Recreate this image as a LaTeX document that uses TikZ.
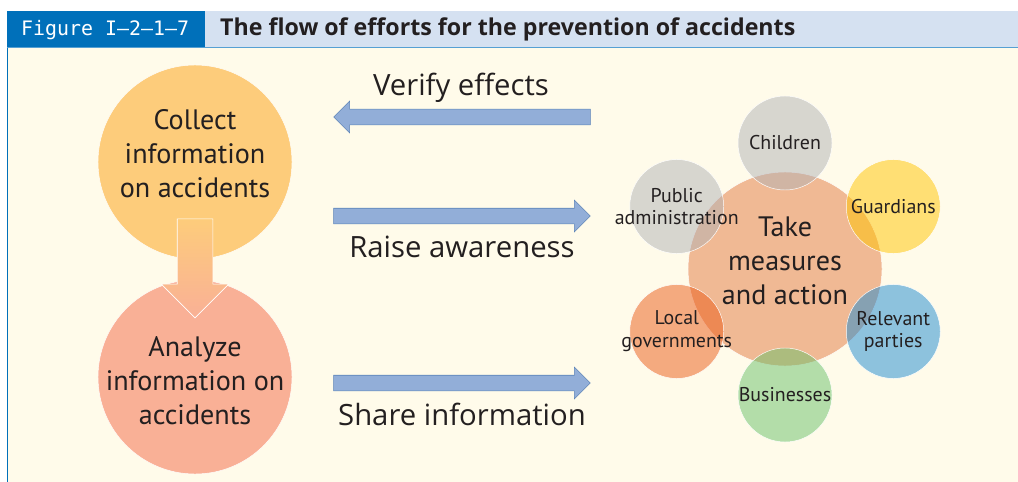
\documentclass[tikz,border=0pt]{standalone}
\usepackage{fontspec}
\setmainfont{PT Sans}
\newfontfamily\labelfont{Open Sans}
\newfontfamily\figfont{DejaVu Sans Mono}
\usepackage{tikz}
\usetikzlibrary{shapes.arrows,calc,positioning}

\definecolor{barblue}{HTML}{0070BA}
\definecolor{barlight}{HTML}{D5E1F1}
\definecolor{barline}{HTML}{56A0D3}
\definecolor{cream}{HTML}{FFFBEA}
\definecolor{collectc}{HTML}{FDCC7B}
\definecolor{analyzec}{HTML}{F9B096}
\definecolor{takec}{HTML}{F0B994}
\definecolor{arrowfill}{HTML}{92AED8}
\definecolor{arrowline}{HTML}{5C84B8}
\definecolor{txt}{HTML}{231F20}
\definecolor{graysat}{HTML}{B1B2B5}
\definecolor{yellowsat}{HTML}{FFC400}
\definecolor{bluesat}{HTML}{1D8AD1}
\definecolor{greensat}{HTML}{69C069}
\definecolor{orangesat}{HTML}{EB5A15}

\tikzset{
  bigcircle/.style={circle, draw=white, line width=0.4pt, minimum size=5.82cm, inner sep=0pt},
  bigtext/.style={text=txt, align=center, inner sep=0pt, font=\fontsize{24}{29}\selectfont},
  satellite/.style={circle, draw=white, line width=0.4pt, fill=#1, fill opacity=0.5,
    minimum size=2.82cm, inner sep=0pt},
  sattext/.style={text=txt, align=center, inner sep=0pt, font=\fontsize{17}{19.5}\selectfont},
  blockarrow/.style={single arrow, draw=arrowline, fill=arrowfill, line width=0.5pt,
    inner sep=0.225cm, single arrow head extend=0.24cm, minimum height=7.7cm},
  flowlabel/.style={text=txt, inner sep=1pt, font=\labelfont\fontsize{25}{30}\selectfont},
}

\begin{document}
\begin{tikzpicture}[x=0.03cm,y=-0.03cm]
  \useasboundingbox (0,0) rectangle (1018,482);
  % frame: white page, cream panel, title bar
  \fill[white] (0,0) rectangle (1018,482);
  \fill[cream] (7,48) rectangle (1018,482);
  \draw[barblue, line width=0.6pt] (7.3,48) -- (7.3,482);
  \fill[barlight] (205,11) rectangle (1018,47);
  \fill[barblue] (7,11) rectangle (205,47);
  \draw[barline, line width=1.5pt] (7,47.5) -- (1018,47.5);
  \node[text=white, anchor=west, font=\figfont\fontsize{17}{20}\selectfont] (fignum) at (17,30) {Figure I–2–1–7};
  \node[text=txt, anchor=west, font=\labelfont\bfseries\fontsize{19.8}{22}\selectfont] (title) at (216,29.5) {The flow of efforts for the prevention of accidents};

  % left column
  \node[bigcircle, fill=collectc, label={[bigtext, yshift=0.24cm]center:Collect\\information\\on accidents}] (collect) at (195,162) {};
  \node[bigcircle, fill=analyzec, label={[bigtext, yshift=-0.12cm]center:Analyze\\information on\\accidents}] (analyze) at (195,377) {};
  \node[single arrow, shape border rotate=270, draw=white, line width=0.5pt,
    top color=collectc, bottom color=analyzec, inner sep=0.525cm,
    single arrow head extend=0.48cm, minimum height=2.97cm] (down) at ($(collect)!0.5!(analyze)+(0,-10)$) {};

  % middle arrows and labels
  \node[blockarrow, shape border rotate=180] (verify) at (466,117) {};
  \node[blockarrow] (raise) at (458,216) {};
  \node[blockarrow] (share) at (458,383) {};
  \node[flowlabel, above=4pt of verify, xshift=-0.15cm] (verifylbl) {Verify effects};
  \node[flowlabel, below=9pt of raise, xshift=0.12cm] (raiselbl) {Raise awareness};
  \node[flowlabel, below=9pt of share, xshift=0.12cm] (sharelbl) {Share information};

  % right cluster
  \node[bigcircle, fill=takec, label={[bigtext, yshift=0.24cm]center:Take\\measures\\and action}] (take) at (785,269) {};
  \node[satellite=graysat, label={[sattext]center:Children}] (children) at ($(take)+(-90:126)$) {};
  \node[satellite=yellowsat, label={[sattext]center:Guardians}] (guardians) at ($(take)+(-30:125)$) {};
  \node[satellite=bluesat, label={[sattext]center:Relevant\\parties}] (parties) at ($(take)+(30:125)$) {};
  \node[satellite=greensat, label={[sattext]center:Businesses}] (business) at ($(take)+(90:126)$) {};
  \node[satellite=orangesat, label={[sattext]center:Local\\governments}] (localgov) at ($(take)+(150:125)$) {};
  \node[satellite=graysat, label={[sattext]center:Public\\administration}] (publicadm) at ($(take)+(210:125)$) {};
\end{tikzpicture}
\end{document}
